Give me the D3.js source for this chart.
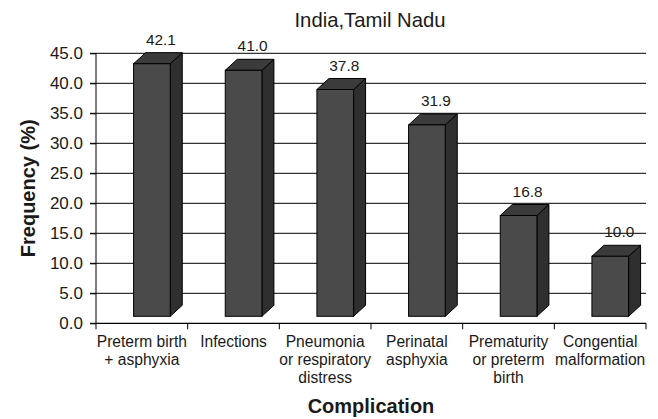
<!DOCTYPE html>
<html>
<head>
<meta charset="utf-8">
<script src="https://cdn.jsdelivr.net/npm/d3@7"></script>
<style>
  html, body { margin: 0; padding: 0; background: #fff; }
  svg { display: block; font-family: "Liberation Sans", Arial, Helvetica, sans-serif; }
</style>
</head>
<body>
<svg id="chart" width="658" height="419"></svg>
<script>
// ---- data ----
const categories = [
  "Preterm birth + asphyxia",
  "Infections",
  "Pneumonia or respiratory distress",
  "Perinatal asphyxia",
  "Prematurity or preterm birth",
  "Congential malformation"
];
const categoryLines = [
  ["Preterm birth", "+ asphyxia"],
  ["Infections"],
  ["Pneumonia", "or respiratory", "distress"],
  ["Perinatal", "asphyxia"],
  ["Prematurity", "or preterm", "birth"],
  ["Congential", "malformation"]
];
const values = [42.1, 41.0, 37.8, 31.9, 16.8, 10.0];
const yTicks = [0, 5, 10, 15, 20, 25, 30, 35, 40, 45];
const titleText = "India,Tamil Nadu";
const xTitle = "Complication";
const yTitle = "Frequency (%)";

// ---- layout ----
const plotL = 96, plotR = 646, plotT = 53.3, plotB = 323.3;
const depthX = 12, depthY = 11, floorOffset = 7;

const svg = d3.select("#chart");

const x = d3.scaleBand().domain(categories).range([plotL, plotR]).padding(0);
const y = d3.scaleLinear().domain([0, 45]).range([plotB, plotT]);

const bw = x.bandwidth();
const frontX = d => x(d) + bw * 0.41;
const frontW = bw * 0.40;

// gridlines (with outer ticks on the left)
svg.append("g")
  .selectAll("line")
  .data(yTicks.filter(t => t > 0))
  .join("line")
  .attr("x1", plotL - 6).attr("x2", plotR)
  .attr("y1", d => y(d)).attr("y2", d => y(d))
  .attr("stroke", "#000").attr("stroke-width", 1);

// bars
const bars = svg.append("g").selectAll("g")
  .data(categories.map((c, i) => ({ c, v: values[i] })))
  .join("g");

bars.each(function(d) {
  const g = d3.select(this);
  const x0 = frontX(d.c), x1 = x0 + frontW;
  const yt = y(d.v) - floorOffset, yb = y(0) - floorOffset;
  // side face
  g.append("path")
    .attr("d", `M${x1},${yt} L${x1 + depthX},${yt - depthY} L${x1 + depthX},${yb - depthY} L${x1},${yb} Z`)
    .attr("fill", "#2f2f2f").attr("stroke", "#000").attr("stroke-width", 1).attr("stroke-linejoin", "round");
  // top face
  g.append("path")
    .attr("d", `M${x0},${yt} L${x0 + depthX},${yt - depthY} L${x1 + depthX},${yt - depthY} L${x1},${yt} Z`)
    .attr("fill", "#3b3b3b").attr("stroke", "#000").attr("stroke-width", 1).attr("stroke-linejoin", "round");
  // front face
  g.append("rect")
    .attr("x", x0).attr("y", yt)
    .attr("width", frontW).attr("height", yb - yt)
    .attr("fill", "#4a4a4a").attr("stroke", "#000").attr("stroke-width", 1);
  // value label
  g.append("text")
    .attr("x", x0 + frontW / 2 + 9)
    .attr("y", y(d.v) - 26)
    .attr("text-anchor", "middle")
    .attr("font-size", 15.4)
    .attr("fill", "#1a1a1a")
    .text(d3.format(".1f")(d.v));
});

// y axis
const yAxis = svg.append("g")
  .attr("transform", `translate(${plotL},0)`)
  .call(d3.axisLeft(y).tickValues(yTicks).tickFormat(d3.format(".1f")).tickSize(6).tickPadding(7));
yAxis.select(".domain").attr("stroke", "#000").attr("d", `M-6,${plotB}H0V${plotT}`);
yAxis.selectAll("text").attr("font-size", 17).attr("fill", "#1a1a1a").attr("font-family", null);
yAxis.selectAll(".tick line").attr("stroke", "#000");

// x axis: line + boundary ticks
const boundaries = categories.map(c => x(c)).concat([plotR]);
svg.append("line")
  .attr("x1", plotL).attr("x2", plotR)
  .attr("y1", plotB).attr("y2", plotB)
  .attr("stroke", "#000").attr("stroke-width", 1.2);
svg.append("g").selectAll("line")
  .data(boundaries)
  .join("line")
  .attr("x1", d => d).attr("x2", d => d)
  .attr("y1", plotB).attr("y2", plotB + 6)
  .attr("stroke", "#000");

// x category labels
svg.append("g").selectAll("text")
  .data(categories)
  .join("text")
  .attr("x", d => x(d) + bw / 2)
  .attr("y", 346.7)
  .attr("text-anchor", "middle")
  .attr("font-size", 15.6)
  .attr("fill", "#1a1a1a")
  .each(function(d, i) {
    const t = d3.select(this);
    categoryLines[i].forEach((ln, j) => {
      t.append("tspan")
        .attr("x", x(d) + bw / 2)
        .attr("dy", j === 0 ? 0 : 18)
        .text(ln);
    });
  });

// title
svg.append("text")
  .attr("x", (plotL + plotR) / 2 - 1)
  .attr("y", 26.5)
  .attr("text-anchor", "middle")
  .attr("font-size", 20.3)
  .attr("fill", "#1a1a1a")
  .text(titleText);

// x title
svg.append("text")
  .attr("x", (plotL + plotR) / 2)
  .attr("y", 413)
  .attr("text-anchor", "middle")
  .attr("font-size", 20)
  .attr("font-weight", "bold")
  .attr("fill", "#1a1a1a")
  .text(xTitle);

// y title
svg.append("text")
  .attr("transform", `translate(35,${(plotT + plotB) / 2}) rotate(-90)`)
  .attr("text-anchor", "middle")
  .attr("font-size", 20)
  .attr("font-weight", "bold")
  .attr("fill", "#1a1a1a")
  .text(yTitle);
</script>
</body>
</html>
